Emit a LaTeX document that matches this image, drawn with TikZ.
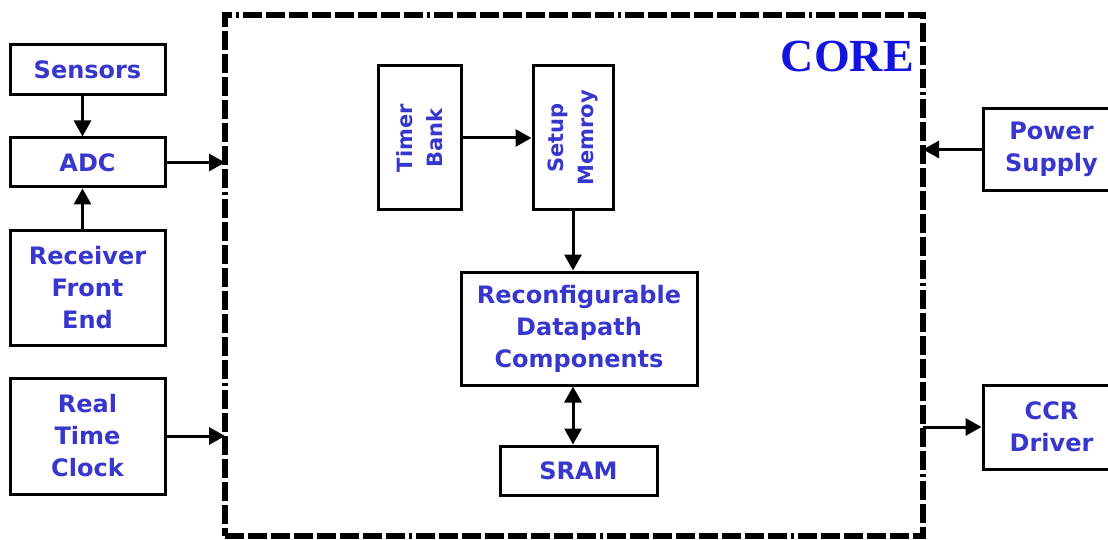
\documentclass[tikz,border=0pt]{standalone}
\usepackage{fontspec}
\setmainfont{DejaVu Sans}
\newfontfamily\corefont{Liberation Serif}
\usetikzlibrary{arrows.meta}
\definecolor{txtblue}{RGB}{55,55,205}
\definecolor{coreblue}{RGB}{20,20,225}
\tikzset{
  blk/.style={draw=black, line width=3pt, rectangle, inner sep=0pt, align=center,
    text=txtblue, font=\fontsize{24}{32}\selectfont\bfseries},
  vblk/.style={blk, font=\fontsize{21}{30}\selectfont\bfseries},
  arr/.style={line width=3pt, -{Triangle[length=16pt,width=17pt]}},
  darr/.style={line width=3pt, {Triangle[length=16pt,width=17pt]}-{Triangle[length=16pt,width=17pt]}},
  coreline/.style={draw=black, line width=6pt, outer sep=0pt,
    dash pattern=on 19pt off 4pt on 19pt off 4pt on 19pt off 4pt on 19pt off 4pt on 19pt off 4pt on 19pt off 4pt on 19pt off 4pt on 19pt off 4pt on 3pt off 4pt},
}
\begin{document}
\begin{tikzpicture}[x=1pt,y=-1pt]
\useasboundingbox (0,0) rectangle (1108,540);
% core
\node[coreline, rectangle, minimum width=698pt, minimum height=521pt, inner sep=0pt] (core) at (574,275.5) {};
\node[anchor=base east, text=coreblue, font=\fontsize{46}{50}\selectfont\corefont\bfseries, inner sep=0pt] (corelbl) at (914,72) {CORE};
% left blocks
\node[blk, minimum width=155pt, minimum height=50pt] (sensors) at (87.5,70) {Sensors};
\node[blk, minimum width=155pt, minimum height=49pt] (adc) at (87.5,162.5) {ADC};
\node[blk, minimum width=155pt, minimum height=115pt] (rfe) at (87.5,287.5) {Receiver\\Front\\End};
\node[blk, minimum width=155pt, minimum height=116pt] (rtc) at (87.5,436) {Real\\Time\\Clock};
% inner blocks
\node[vblk, minimum width=144pt, minimum height=83pt, rotate=90] (timer) at (419.5,138) {Timer\\Bank};
\node[vblk, minimum width=144pt, minimum height=80pt, rotate=90] (setup) at (573,138) {Setup\\Memroy};
\node[blk, minimum width=236pt, minimum height=113pt] (rdc) at (579,328.5) {Reconfigurable\\Datapath\\Components};
\node[blk, minimum width=157pt, minimum height=49pt] (sram) at (578.5,470.5) {SRAM};
% right blocks
\node[blk, minimum width=137pt, minimum height=82pt] (power) at (1051.5,149.5) {Power\\Supply};
\node[blk, minimum width=137pt, minimum height=84pt] (ccr) at (1051.5,427) {CCR\\Driver};
% connectors
\draw[arr] ([xshift=-5pt]sensors.south) -- ([xshift=-5pt]adc.north);
\draw[arr] ([xshift=-5pt]rfe.north) -- ([xshift=-5pt]adc.south);
\draw[arr] (adc.east) -- (adc.east -| core.west);
\draw[arr] (rtc.east) -- (rtc.east -| core.west);
\draw[arr] (timer.south) -- (timer.south -| setup.north);
\draw[arr] (setup.west) -- (setup.west |- rdc.north);
\draw[darr] (rdc.south -| setup.west) -- (sram.north -| setup.west);
\draw[arr] (power.west) -- (power.west -| core.east);
\draw[arr] (ccr.west -| core.east) -- (ccr.west);
\end{tikzpicture}
\end{document}
